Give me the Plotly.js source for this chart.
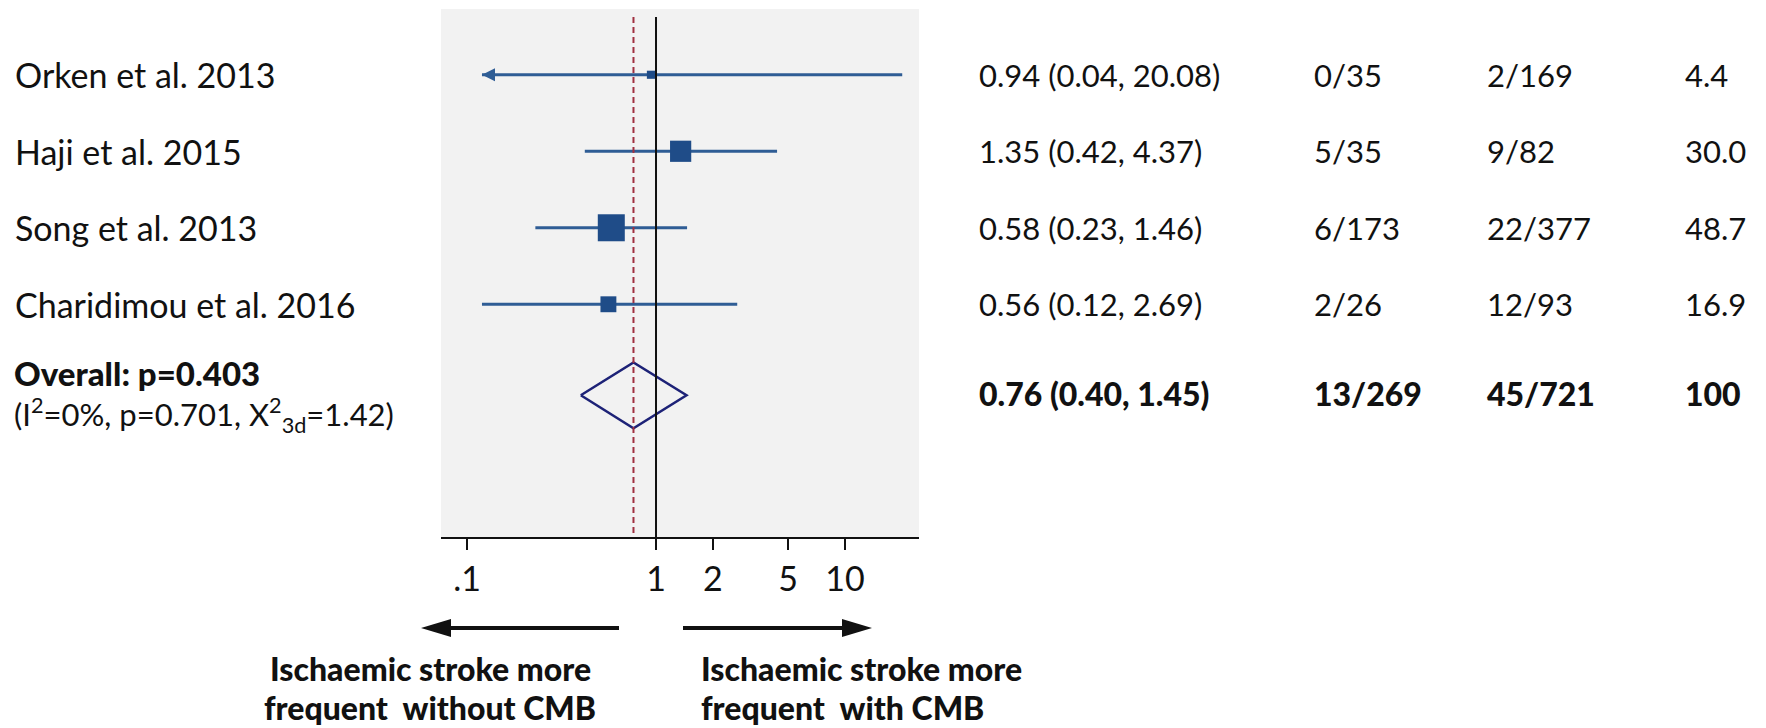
<!DOCTYPE html>
<html><head><meta charset="utf-8">
<script src="https://cdn.plot.ly/plotly-3.0.1.min.js"></script>
<style>html,body{margin:0;padding:0;background:#fff}#chart{width:1766px;height:728px}</style>
</head><body><div id="chart"></div>
<script>
// ---------------- data ----------------
const studies = ['Orken et al. 2013', 'Haji et al. 2015', 'Song et al. 2013', 'Charidimou et al. 2016'];
const orEst = [0.94, 1.35, 0.58, 0.56];
const ciLow = [0.04, 0.42, 0.23, 0.12];
const ciHigh = [20.08, 4.37, 1.46, 2.69];
const eventsNoCMB = ['0/35', '5/35', '6/173', '2/26'];
const eventsCMB = ['2/169', '9/82', '22/377', '12/93'];
const weights = [4.4, 30.0, 48.7, 16.9];
const overallEst = 0.76, overallLow = 0.40, overallHigh = 1.45;
const overallNoCMB = '13/269', overallCMB = '45/721', overallWeight = '100';
const overallLabel = 'Overall: p=0.403';
const heterogeneityLabel = '(I<sup>2</sup>=0%, p=0.701, X<sup>2</sup><sub>3d</sub>=1.42)';
const tickVals = [0.1, 1, 2, 5, 10];
const tickText = ['.1', '1', '2', '5', '10'];
const clipLow = 0.12;   // CIs reaching below this value are cut and drawn as arrows
const leftNote = ['Ischaemic stroke more', 'frequent&nbsp; without CMB'];
const rightNote = ['Ischaemic stroke more', 'frequent&nbsp; with CMB'];

// ---------------- layout constants ----------------
const W = 1766, H = 728;
const px = v => v / W;
const py = v => 1 - v / H;
const FONT = 'Lato, "Open Sans", sans-serif';
const INK = '#111111';
const BLUE_LINE = '#2f5d95', BLUE_MARK = '#1f4c88', DIAMOND = '#1d2277', REFRED = '#a03040';
const markOffset = -0.16, diamondOffset = 0.03, diamondHalf = 0.43;
const yTopRange = -1.0196, yBottomRange = 5.882, refLineTop = -0.915;
const overallRow = studies.length;
const colX = [977, 1312, 1485, 1683];
const textSize = 31, labelSize = 34, boldSize = 32;

// ---------------- traces ----------------
const rowY = studies.map((s, i) => i + markOffset);
const traces = [];
studies.forEach((s, i) => {
  traces.push({type: 'scatter', mode: 'lines', x: [Math.max(ciLow[i], clipLow), ciHigh[i]], y: [rowY[i], rowY[i]],
    line: {color: BLUE_LINE, width: 3}, hoverinfo: 'skip'});
});
const cut = studies.map((s, i) => i).filter(i => ciLow[i] < clipLow);
traces.push({type: 'scatter', mode: 'markers', x: cut.map(() => clipLow), y: cut.map(i => rowY[i]),
  marker: {symbol: 'arrow-left', size: 13, color: BLUE_LINE, opacity: 1, line: {width: 0}}, hoverinfo: 'skip'});
traces.push({type: 'scatter', mode: 'markers', x: orEst, y: rowY,
  marker: {symbol: 'square', size: weights.map(w => 3.87 * Math.sqrt(w)), color: BLUE_MARK, opacity: 1, line: {width: 0}},
  hoverinfo: 'skip'});
const dy = overallRow + diamondOffset;
traces.push({type: 'scatter', mode: 'lines',
  x: [overallLow, overallEst, overallHigh, overallEst, overallLow],
  y: [dy, dy - diamondHalf, dy, dy + diamondHalf, dy],
  line: {color: DIAMOND, width: 2.5}, hoverinfo: 'skip'});
traces.push({type: 'scatter', mode: 'lines', x: [overallEst, overallEst], y: [refLineTop, yBottomRange],
  line: {color: REFRED, width: 2, dash: '6px,4px'}, hoverinfo: 'skip'});
traces.push({type: 'scatter', mode: 'lines', x: [1, 1], y: [refLineTop, yBottomRange],
  line: {color: INK, width: 2}, hoverinfo: 'skip'});

// ---------------- annotations ----------------
const ann = [];
const txt = (text, x, y, opts = {}) => Object.assign({
  text, x, y, xref: 'paper', yref: 'y', xanchor: 'left', yanchor: 'middle', showarrow: false,
  font: {family: FONT, size: textSize, color: INK}
}, opts);
studies.forEach((s, i) => {
  ann.push(txt(s, px(13), rowY[i], {font: {family: FONT, size: labelSize, color: INK}}));
  ann.push(txt(`${orEst[i].toFixed(2)} (${ciLow[i].toFixed(2)}, ${ciHigh[i].toFixed(2)})`, px(colX[0]), rowY[i]));
  ann.push(txt(eventsNoCMB[i], px(colX[1]), rowY[i]));
  ann.push(txt(eventsCMB[i], px(colX[2]), rowY[i]));
  ann.push(txt(weights[i].toFixed(1), px(colX[3]), rowY[i]));
});
const boldFont = {family: FONT, size: boldSize, color: INK, weight: 900};
ann.push(txt(`${overallEst.toFixed(2)} (${overallLow.toFixed(2)}, ${overallHigh.toFixed(2)})`, px(colX[0]), overallRow, {font: boldFont}));
ann.push(txt(overallNoCMB, px(colX[1]), overallRow, {font: boldFont}));
ann.push(txt(overallCMB, px(colX[2]), overallRow, {font: boldFont}));
ann.push(txt(overallWeight, px(colX[3]), overallRow, {font: boldFont}));
// overall label: two lines in one text block
ann.push(txt(`<span style="font-weight:900;font-size:33px">${overallLabel}</span><br>${heterogeneityLabel}`,
  px(12), overallRow, {align: 'left', yshift: -2, font: {family: FONT, size: 31, color: INK}}));

const noteFont = {family: FONT, size: 32, color: INK, weight: 900};
const note = (text, x, y, anchor) => ({text, x: px(x), y: py(y), xref: 'paper', yref: 'paper',
  xanchor: anchor, yanchor: 'middle', showarrow: false, font: noteFont});
ann.push(note(leftNote[0], 430, 668, 'center'));
ann.push(note(leftNote[1], 430, 707, 'center'));
ann.push(note(rightNote[0], 699, 668, 'left'));
ann.push(note(rightNote[1], 699, 707, 'left'));

// ---------------- decorative direction arrows ----------------
const ay = 628;
const shapes = [
  {type: 'line', xref: 'paper', yref: 'paper', x0: px(449), x1: px(619), y0: py(ay), y1: py(ay), line: {color: INK, width: 4}},
  {type: 'path', xref: 'paper', yref: 'paper', path: `M ${px(421)},${py(ay)} L ${px(451)},${py(ay - 9)} L ${px(451)},${py(ay + 9)} Z`, fillcolor: INK, line: {width: 0}},
  {type: 'line', xref: 'paper', yref: 'paper', x0: px(683), x1: px(844), y0: py(ay), y1: py(ay), line: {color: INK, width: 4}},
  {type: 'path', xref: 'paper', yref: 'paper', path: `M ${px(872)},${py(ay)} L ${px(842)},${py(ay - 9)} L ${px(842)},${py(ay + 9)} Z`, fillcolor: INK, line: {width: 0}}
];

const layout = {
  width: W, height: H, margin: {l: 0, r: 0, t: 0, b: 0},
  paper_bgcolor: '#ffffff', plot_bgcolor: '#f2f2f2', showlegend: false,
  xaxis: {type: 'log', range: [-1.1376, 1.3915], domain: [px(441), px(919)],
    tickvals: tickVals, ticktext: tickText, ticks: 'outside', ticklen: 11, tickwidth: 2, tickcolor: INK,
    showline: true, linecolor: INK, linewidth: 2, showgrid: false, zeroline: false,
    tickfont: {family: FONT, size: labelSize, color: INK}, ticklabelstandoff: 0, fixedrange: true},
  yaxis: {range: [yBottomRange, yTopRange], domain: [py(537), py(9)], visible: false, fixedrange: true},
  annotations: ann, shapes: shapes
};
Plotly.newPlot('chart', traces, layout, {displayModeBar: false, staticPlot: true});
</script>
</body></html>
